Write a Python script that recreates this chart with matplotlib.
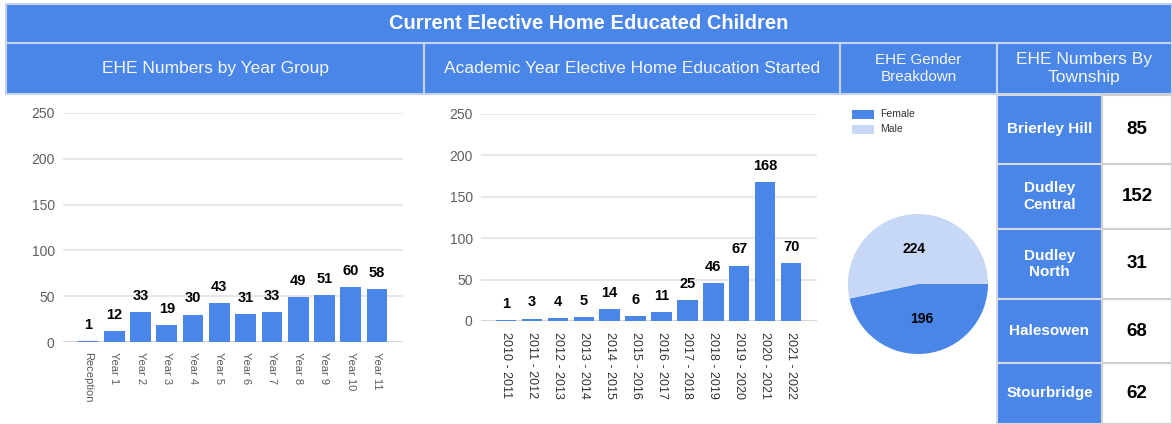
import matplotlib
matplotlib.use("Agg")
import matplotlib.pyplot as plt
from matplotlib.patches import Rectangle
import math

plt.rcParams['font.family'] = ['Liberation Sans', 'DejaVu Sans']

# ---------------- data ----------------
title = "Current Elective Home Educated Children"
headers = ["EHE Numbers by Year Group",
           "Academic Year Elective Home Education Started",
           "EHE Gender\nBreakdown",
           "EHE Numbers By\nTownship"]

year_groups = ["Reception", "Year 1", "Year 2", "Year 3", "Year 4", "Year 5",
               "Year 6", "Year 7", "Year 8", "Year 9", "Year 10", "Year 11"]
year_counts = [1, 12, 33, 19, 30, 43, 31, 33, 49, 51, 60, 58]

academic_years = ["2010 - 2011", "2011 - 2012", "2012 - 2013", "2013 - 2014",
                  "2014 - 2015", "2015 - 2016", "2016 - 2017", "2017 - 2018",
                  "2018 - 2019", "2019 - 2020", "2020 - 2021", "2021 - 2022"]
started_counts = [1, 3, 4, 5, 14, 6, 11, 25, 46, 67, 168, 70]

genders = ["Female", "Male"]
gender_counts = [196, 224]

townships = ["Brierley Hill", "Dudley\nCentral", "Dudley\nNorth", "Halesowen", "Stourbridge"]
township_counts = [85, 152, 31, 68, 62]

y_ticks = [0, 50, 100, 150, 200, 250]

# ---------------- style ----------------
BLUE = "#4a86e8"
LIGHT = "#c6d8f6"
HTXT = "#f4f6fa"
W, H = 1172, 424
fig = plt.figure(figsize=(W / 100, H / 100), dpi=100)
fig.patch.set_facecolor("white")

def rect(x0, y0, x1, y1):
    """pixel box (top-left origin) -> figure fraction rect"""
    return [x0 / W, 1 - y1 / H, (x1 - x0) / W, (y1 - y0) / H]

# overlay axes in pixel coordinates
ov = fig.add_axes([0, 0, 1, 1], zorder=0)
ov.set_xlim(0, W)
ov.set_ylim(H, 0)
ov.axis("off")

edge = "#c5d3ec"
ov.add_patch(Rectangle((6, 4), W - 6, 39, facecolor=BLUE, edgecolor=edge, lw=1.5))
ov.text((6 + W) / 2, 23.5, title, color="white", fontsize=14.5, fontweight="bold",
        ha="center", va="center")

cols = [(6, 424), (424, 840), (840, 997), (997, W)]
hsizes = [12.5, 12.5, 11, 12.5]
for (x0, x1), htxt, fs in zip(cols, headers, hsizes):
    ov.add_patch(Rectangle((x0, 43), x1 - x0, 51, facecolor=BLUE, edgecolor=edge, lw=1.5))
    ov.text((x0 + x1) / 2, 68.5, htxt, color=HTXT, fontsize=fs, ha="center",
            va="center", linespacing=1.2)

# township table
row_edges = [95, 164, 229, 299, 363, 424]
for i, (name, val) in enumerate(zip(townships, township_counts)):
    y0, y1 = row_edges[i], row_edges[i + 1]
    ov.add_patch(Rectangle((997, y0), 105, y1 - y0, facecolor=BLUE, edgecolor="#d4d9e2", lw=1.5))
    ov.add_patch(Rectangle((1102, y0), W - 1102, y1 - y0, facecolor="white", edgecolor="#d0d0d0", lw=1.5))
    ov.text(1049.5, (y0 + y1) / 2, name, color="white", fontsize=11, fontweight="bold",
            ha="center", va="center", linespacing=1.25)
    ov.text(1137, (y0 + y1) / 2, str(val), color="black", fontsize=13.5, fontweight="bold",
            ha="center", va="center")

# ---------------- bar charts ----------------
def bar_chart(box, cats, vals, lbl_size, lbl_color, xpad, xl):
    ax = fig.add_axes(rect(*box), zorder=2)
    ax.patch.set_alpha(0)
    x = list(range(len(cats)))
    bars = ax.bar(x, vals, width=0.79, color=BLUE, zorder=3)
    ax.set_ylim(0, 250)
    ax.set_xlim(*xl)
    ax.set_yticks(y_ticks)
    ax.set_yticklabels([str(t) for t in y_ticks], fontsize=10, color="#5f5f5f")
    ax.set_xticks(x)
    ax.set_xticklabels(cats, rotation=-90, fontsize=lbl_size, color=lbl_color,
                       va="top", ha="center")
    ax.tick_params(axis="both", length=0)
    ax.tick_params(axis="y", pad=6)
    ax.tick_params(axis="x", pad=xpad)
    for s in ax.spines.values():
        s.set_visible(False)
    ax.yaxis.grid(True, color="#e3e3e3", lw=1.2, zorder=0)
    ax.set_axisbelow(True)
    ax.axhline(0, color="#d2d2d2", lw=1.2, zorder=1)
    for b, v in zip(bars, vals):
        ax.annotate(str(v), (b.get_x() + b.get_width() / 2, v), xytext=(0, 6.5),
                    textcoords="offset points", ha="center", va="bottom",
                    fontsize=10.5, fontweight="bold", color="black")
    return ax

bar_chart((63, 113, 403, 342), year_groups, year_counts, 8, "#5a5a5a", 7, (-0.95, 11.99))
bar_chart((481, 114, 817, 321), academic_years, started_counts, 9, "#333333", 8, (-0.965, 12.0))

# ---------------- pie ----------------
axp = fig.add_axes(rect(848, 214, 988, 354), zorder=2)
wedges, _ = axp.pie(gender_counts, colors=[BLUE, LIGHT], startangle=0,
                    counterclock=False, radius=1.0,
                    wedgeprops=dict(linewidth=0))
axp.set_xlim(-1, 1)
axp.set_ylim(-1, 1)
axp.set_aspect("equal")
ang = 0.0
total = sum(gender_counts)
for w, v in zip(wedges, gender_counts):
    span = v / total * 360
    mid = math.radians(ang - span / 2)
    axp.text(0.5 * math.cos(mid), 0.5 * math.sin(mid), str(v), ha="center", va="center",
             fontsize=10, fontweight="bold", color="black")
    ang -= span

# legend
for i, (g, c) in enumerate(zip(genders, [BLUE, LIGHT])):
    yc = 114 + i * 15
    ov.add_patch(Rectangle((852, yc - 4.5), 22, 9, facecolor=c, edgecolor="none"))
    ov.text(880, yc, g, fontsize=7.5, color="#333333", ha="left", va="center")

fig.savefig("out.png", dpi=100)
